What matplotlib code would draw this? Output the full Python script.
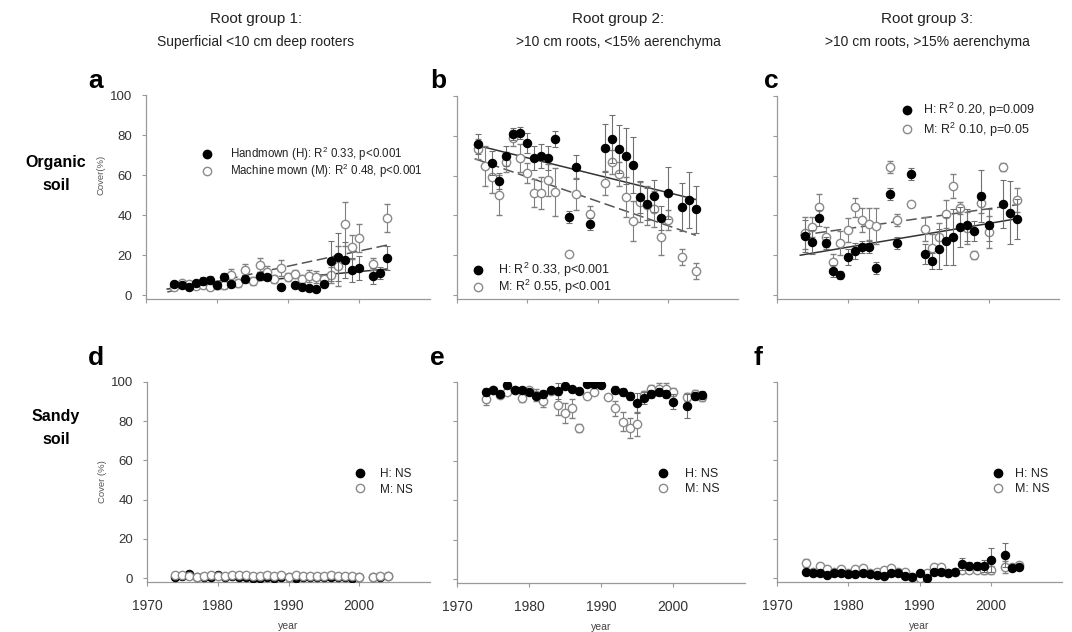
import numpy as np
import matplotlib
matplotlib.use("Agg")
import matplotlib.pyplot as plt
from matplotlib.lines import Line2D

plt.rcParams['font.family'] = ['Liberation Sans', 'DejaVu Sans']
plt.rcParams['mathtext.fontset'] = 'custom'
plt.rcParams['mathtext.rm'] = 'Liberation Sans'
plt.rcParams['mathtext.it'] = 'Liberation Sans:italic'

nan = np.nan

# ---- data ----
years = list(range(1974, 2005))
years_b = list(range(1973, 2005))

# panel a : organic soil, root group 1
H_a = [5.5, 5, 4, 6, 7, 7.5, 5, 9, 5.5, nan, 8, nan, 9.5, 9, nan, 4, nan, 5, 3.8, 3.3, 3,
       5.5, 17, 19, 17.5, 12.5, 13.5, nan, 9.5, 11, 18.5]
H_a_err = [1.5, 1, 1, 1.5, 2, 2, 1.5, 2, 1.5, nan, 2, nan, 2, 1.5, nan, 1, nan, 1, 1, 1, 1,
           1.5, 10, 12, 9, 6, 6, nan, 4, 3, 6]
M_a = [4, 6, 5.5, 4.5, 5, 4, 5, 5, 10, 6, 12.5, 7, 15, 11.5, 8, 13.5, 9, 10.5, 8, 9.5, 9,
       8, 10, 14.5, 35.5, 24, 28.5, nan, 15.5, nan, 38.5]
M_a_err = [1.5, 1, 1, 1, 1, 1, 2, 2, 3, 2, 3, 2, 3.5, 3, 2, 4, 2, 2, 2, 3, 3,
           2, 4, 10, 11, 6, 7, nan, 3, nan, 7]

# panel b : organic soil, root group 2 (1973-2004)
H_b = [75.7, nan, 66.2, 57.3, 69.8, 80.9, 81.6, 76.2, 68.7, 69.8, 68.7, 78.6, nan, 39.4, 64.2, nan,
       35.5, nan, 73.7, 78.4, 73.4, 70, 65.3, 49.1, 45.6, 49.9, 38.5, 51.1, nan, 44.4, 47.7, 43]
H_b_err = [5, nan, 6, 4, 5, 3, 3, 5, 6, 6, 6, 4, nan, 3, 6, nan,
           3, nan, 12, 12, 12, 14, 14, 8, 8, 8, 6, 13, nan, 12, 14, 12]
M_b = [73.2, 64.8, 59.5, 50.3, 67, 78.7, 68.7, 61.5, 51.1, 51.4, 57.8, 51.9, nan, 20.6, 50.8, nan,
       40.7, nan, 56.1, 66.7, 60.8, 49.1, 37.2, 46.9, 45, 43.2, 29.3, 37.7, nan, 19.3, nan, 12.2]
M_b_err = [5, 10, 8, 10, 5, 4, 7, 5, 7, 8, 8, 12, nan, 0, 8, nan,
           4, nan, 6, 6, 6, 10, 10, 10, 10, 9, 9, 5, nan, 4, nan, 4]

# panel c : organic soil, root group 3
H_c = [29.6, 26.8, 38.5, 26, 12.2, 10, 19.3, 22.3, 24.3, 24.3, 13.4, nan, 50.6, 26.3, nan, 60.6,
       nan, 20.4, 17.3, 23, 27.3, 29, 34, 35.3, 32, 49.7, 35.2, nan, 45.7, 41.4, 38]
H_c_err = [8, 6, 4, 3, 3, 2, 4, 4, 3, 3, 3, nan, 3, 3, nan, 3,
           nan, 5, 4, 10, 12, 14, 10, 8, 5, 13, 8, nan, 12, 16, 10]
M_c = [31.3, 34.3, 44, 29, 16.8, 26.3, 32.7, 44, 37.7, 35.7, 34.7, nan, 64.2, 37.7, nan, 45.6,
       nan, 33, 23.5, 29, 40.7, 54.8, 43.6, 33.5, 20.1, 46.1, 31.8, nan, 64.2, nan, 47.7]
M_c_err = [8, 5, 7, 5, 4, 6, 6, 5, 6, 8, 9, nan, 3, 3, nan, 1,
           nan, 6, 7, 7, 7, 6, 3, 8, 2, 5, 8, nan, 2, nan, 6]

# panel d : sandy soil, root group 1
H_d = [0.8, 1, 2, 0.8, 0.5, 0.8, 1.8, 0.5, 1, 0.8, 0.5, 0, 0, 0.5, 0, 0.3, 0.5, 0, 0.5, 0.5, 0.5,
       0.5, 0.5, 0.5, 0.3, 0, 0.3, nan, 0.5, 0.5, 1]
M_d = [1.5, 1.5, 1, 0.8, 1, 1.5, 1, 1, 1.8, 1.5, 1.5, 1, 1, 1.5, 1, 1.5, 0.3, 1.5, 1, 1, 1,
       1, 1.5, 1, 1, 1, 0.5, nan, 0.5, 1, 1]

# panel e : sandy soil, root group 2
H_e = [95, 96, 94, 98.4, 96, 95.9, 95, 93, 94, 96, 95.4, 98, 96.2, 95.4, 98.8, 98.8, 98.4, nan,
       96, 95, 93, 89.5, 91.7, 94, 95, 94, 90.1, nan, 87.7, 93, 93.2]
H_e_err = [2, 1, 1, 1, 1, 1, 1, 1, 2, 1, 4, 1, 1, 1, 1, 1, 1, nan,
           2, 2, 2, 5, 3, 2, 2, 2, 4, nan, 6, 2, 2]
M_e = [91.2, 96, 93.4, 95.1, 96, 91.7, 96, 93.4, 90.5, 95.6, 88.3, 84.1, 86.6, 76.5, 93, 95, nan,
       92.6, 86.6, 79.9, 76.5, 78.7, 93.4, 96.3, 96.3, 96.3, 95.1, nan, 92.6, 94, 92.6]
M_e_err = [3, 1, 1, 1, 1, 2, 1, 3, 3, 1, 5, 5, 5, 2, 1, 1, nan,
           1, 4, 5, 5, 6, 2, 2, 3, 3, 2, nan, 2, 2, 2]

# panel f : sandy soil, root group 3
H_f = [3.2, 2.4, 2.7, 1.5, 2.5, 2.7, 1.9, 1.9, 2.4, 2.2, 1.5, 1, 2.7, 2.5, 1, 0.8, 2.4, 0, 3.2,
       3.2, 2.4, 3, 7.1, 6.1, 6.1, 6.1, 9.2, nan, 11.7, 4.9, 5.5]
H_f_err = [1, 1, 1, 1, 1, 1, 1, 1, 1, 1, 1, 1, 1, 1, 1, 1, 1, 1, 1,
           1, 1, 1, 3, 2, 2, 3, 6, nan, 6, 1, 1]
M_f = [7.5, 3.2, 6.3, 4.4, 3.2, 4.4, 2.7, 4.4, 4.9, 2.4, 3.2, 4.1, 4.9, 3.2, 3.2, 0.7, 0, 2.7,
       5.8, 5.8, 2.4, 3.2, 4.1, 4.1, 4.1, 4.1, 4.1, nan, 5.8, 5.8, 6.5]
M_f_err = [2, 1, 1, 1, 1, 1, 1, 1, 1, 1, 1, 1, 1, 1, 1, 1, 1, 1,
           1, 1, 1, 1, 1, 1, 1, 2, 2, nan, 3, 1, 1]

# regression lines (start / end values)
fit_years_a = [1973, 2004]
fit_H_a = [3, 13]
fit_M_a = [1.5, 25]
fit_years_b = [1972.5, 2004]
fit_H_b = [75.5, 48]
fit_M_b = [68.5, 30]
fit_years_c = [1973.3, 2004.3]
fit_H_c = [20, 38.5]
fit_M_c = [30, 45.5]

col_titles = ["Root group 1:", "Root group 2:", "Root group 3:"]
col_subtitles = ["Superficial <10 cm deep rooters", ">10 cm roots, <15% aerenchyma",
                 ">10 cm roots, >15% aerenchyma"]
row_titles = ["Organic\nsoil", "Sandy\nsoil"]
leg_a = ["Handmown (H): R$^2$ 0.33, p<0.001", "Machine mown (M): R$^2$ 0.48, p<0.001"]
leg_b = ["H: R$^2$ 0.33, p<0.001", "M: R$^2$ 0.55, p<0.001"]
leg_c = ["H: R$^2$ 0.20, p=0.009", "M: R$^2$ 0.10, p=0.05"]
leg_ns = ["H: NS", "M: NS"]

# ---- figure ----
W, Hpx = 1072, 632
fig = plt.figure(figsize=(W / 100, Hpx / 100), dpi=100)


def add_ax(left, right, top, bottom):
    return fig.add_axes([left / W, 1 - bottom / Hpx, (right - left) / W, (bottom - top) / Hpx])


axa = add_ax(146, 430, 95, 299)
axb = add_ax(457, 738, 96, 299)
axc = add_ax(777, 1059, 96, 299)
axd = add_ax(147, 430, 382, 582)
axe = add_ax(457, 745, 382, 583)
axf = add_ax(777, 1062, 382, 582)

spine_col = '#999999'
for ax in [axa, axb, axc, axd, axe, axf]:
    ax.set_xlim(1970, 2010)
    ax.set_ylim(-2, 100)
    ax.set_xticks([1970, 1980, 1990, 2000])
    ax.set_yticks([0, 20, 40, 60, 80, 100])
    for s in ['top', 'right']:
        ax.spines[s].set_visible(False)
    for s in ['left', 'bottom']:
        ax.spines[s].set_color(spine_col)
        ax.spines[s].set_linewidth(0.9)
    ax.tick_params(direction='out', length=3, width=0.8, color=spine_col,
                   labelcolor='#333333')
    ax.tick_params(axis='y', pad=7, labelsize=9.5)
    ax.tick_params(axis='x', pad=9, labelsize=10)

for ax in [axa, axb, axc]:
    ax.set_xticklabels([])
for ax in [axb, axc, axe, axf]:
    ax.set_yticklabels([])

for ax in [axd, axe, axf]:
    ax.set_xlabel("year", fontsize=7.5, color='#444444', labelpad=6)

axa.set_ylabel("Cover(%)", fontsize=6.8, color='#555555')
axa.yaxis.set_label_coords(-0.141, 0.61)
axd.set_ylabel("Cover (%)", fontsize=6.8, color='#555555')
axd.yaxis.set_label_coords(-0.141, 0.5)


def draw(ax, x, h, herr, m, merr, open_on_top=False):
    zm, zh = (5, 4) if open_on_top else (3, 4)
    ax.errorbar(x, m, yerr=merr, fmt='o', ms=6, mfc='white', mec='#8a8a8a', mew=1.0,
                ecolor='#808080', elinewidth=0.8, capsize=2.5, capthick=0.8, zorder=zm)
    ax.errorbar(x, h, yerr=herr, fmt='o', ms=6, mfc='black', mec='black', mew=0.8,
                ecolor='#707070', elinewidth=0.8, capsize=2.5, capthick=0.8, zorder=zh)


draw(axa, years, H_a, H_a_err, M_a, M_a_err)
draw(axb, years_b, H_b, H_b_err, M_b, M_b_err)
draw(axc, years, H_c, H_c_err, M_c, M_c_err)
draw(axd, years, H_d, None, M_d, None, open_on_top=True)
draw(axe, years, H_e, H_e_err, M_e, M_e_err)
draw(axf, years, H_f, H_f_err, M_f, M_f_err)

for ax, fx, fh, fm in [(axa, fit_years_a, fit_H_a, fit_M_a),
                       (axb, fit_years_b, fit_H_b, fit_M_b),
                       (axc, fit_years_c, fit_H_c, fit_M_c)]:
    ax.plot(fx, fh, color='#333333', lw=1.1, zorder=2)
    ax.plot(fx, fm, color='#555555', lw=1.1, dashes=(7, 3), zorder=2)

handles = [Line2D([], [], marker='o', ls='none', ms=6, mfc='black', mec='black'),
           Line2D([], [], marker='o', ls='none', ms=6, mfc='white', mec='#8a8a8a', mew=1.0)]


def legend(ax, labels, mx, ty, tx, fs, sp):
    fs_px = fs * 100 / 72
    hl = 0.9
    left = mx - hl * fs_px / 2
    pad = (tx - (left + hl * fs_px)) / fs_px
    ax.legend(handles, labels, loc='upper left',
              bbox_to_anchor=(left / W, 1 - ty / Hpx), bbox_transform=fig.transFigure,
              frameon=False, borderpad=0, borderaxespad=0, handlelength=hl,
              handletextpad=pad, labelspacing=sp, fontsize=fs, labelcolor='#222222')


legend(axa, leg_a, 207, 145, 230, 8.3, -0.08)
legend(axb, leg_b, 478, 261, 498, 9, -0.12)
legend(axc, leg_c, 907, 101, 923, 9, 0.1)
legend(axd, leg_ns, 360, 468, 380, 8.5, 0.3)
legend(axe, leg_ns, 663, 468, 685, 9, 0.25)
legend(axf, leg_ns, 998, 468, 1015, 9, 0.25)

# column titles
for cx, t, st in zip([256, 618, 927], col_titles, col_subtitles):
    fig.text(cx / W, 1 - 19 / Hpx, t, ha='center', va='center', fontsize=11, color='#222222')
    fig.text(cx / W, 1 - 42 / Hpx, st, ha='center', va='center', fontsize=10, color='#222222')

# row titles
fig.text(56 / W, 1 - 174 / Hpx, row_titles[0], ha='center', va='center', fontsize=11.5,
         fontweight='bold', linespacing=1.65)
fig.text(56 / W, 1 - 428 / Hpx, row_titles[1], ha='center', va='center', fontsize=11.5,
         fontweight='bold', linespacing=1.65)

# panel letters
for lx, ly, letter in [(88, 88, 'a'), (430, 88, 'b'), (764, 88, 'c'),
                       (88, 365, 'd'), (430, 365, 'e'), (754, 365, 'f')]:
    fig.text(lx / W, 1 - ly / Hpx, letter, ha='left', va='baseline', fontsize=19,
             fontweight='bold')

fig.savefig("out.png", dpi=100)
